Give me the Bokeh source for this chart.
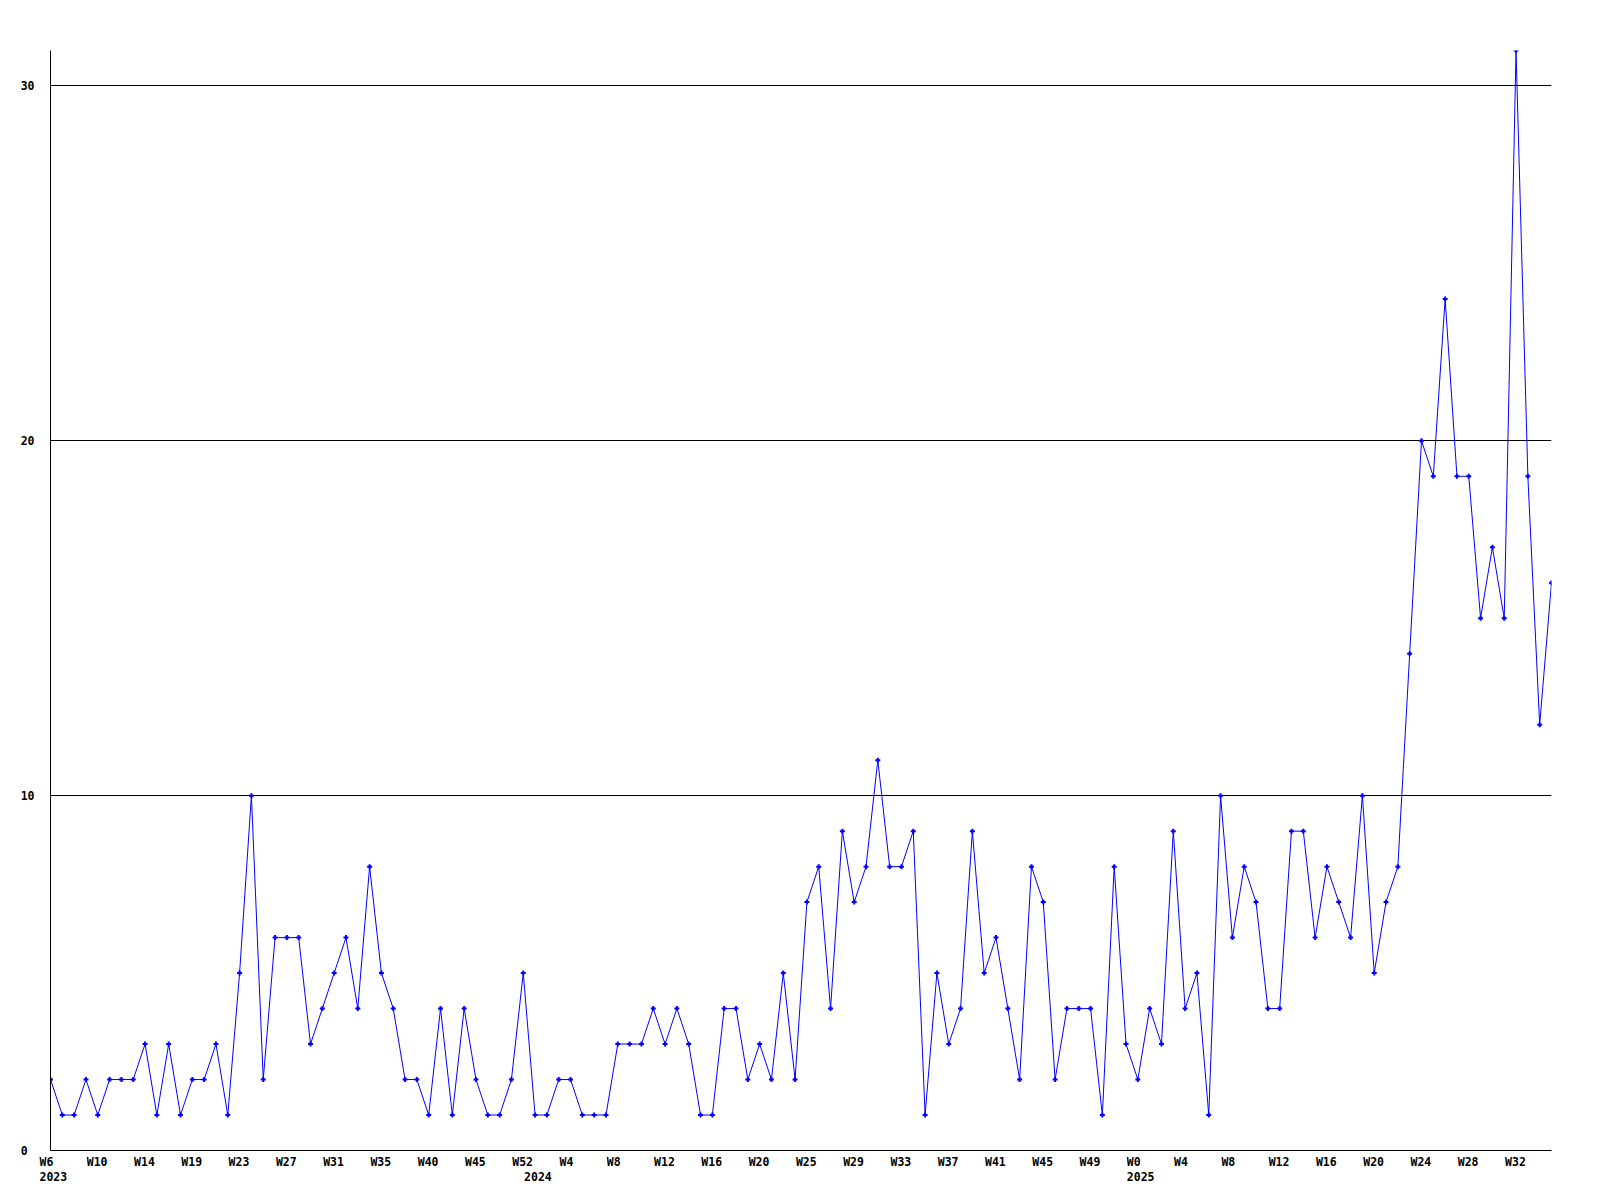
from bokeh.plotting import figure
from bokeh.models import (FixedTicker, ColumnDataSource, Range1d, LinearAxis,
                          CustomJSTickFormatter)
from bokeh.embed import file_html
from bokeh.resources import INLINE
import math

# weekly counts, W6 2023 .. W33 2025 (index based)
counts = [2, 1, 1, 2, 1, 2, 2, 2, 3, 1,
          3, 1, 2, 2, 3, 1, 5, 10, 2, 6,
          6, 6, 3, 4, 5, 6, 4, 8, 5, 4,
          2, 2, 1, 4, 1, 4, 2, 1, 1, 2,
          5, 1, 1, 2, 2, 1, 1, 1, 3, 3,
          3, 4, 3, 4, 3, 1, 1, 4, 4, 2,
          3, 2, 5, 2, 7, 8, 4, 9, 7, 8,
          11, 8, 8, 9, 1, 5, 3, 4, 9, 5,
          6, 4, 2, 8, 7, 2, 4, 4, 4, 1,
          8, 3, 2, 4, 3, 9, 4, 5, 1, 10,
          6, 8, 7, 4, 4, 9, 9, 6, 8, 7,
          6, 10, 5, 7, 8, 14, 20, 19, 24, 19,
          19, 15, 17, 15, 31, 19, 12, 16]

week_tick_labels = ["W6", "W10", "W14", "W19", "W23", "W27", "W31", "W35",
                    "W40", "W45", "W52", "W4", "W8", "W12", "W16", "W20",
                    "W25", "W29", "W33", "W37", "W41", "W45", "W49", "W0",
                    "W4", "W8", "W12", "W16", "W20", "W24", "W28", "W32"]
week_tick_step = 4
year_labels = ["2023", "2024", "2025"]
year_label_index = [0, 41, 92]
y_ticks = [0, 10, 20, 30]
y_max = 31

FONT = "DejaVu Sans Mono"
FSIZE_PX = 11.5
FSIZE = f"{FSIZE_PX}px"
CHAR_W = 0.602 * FSIZE_PX      # monospace advance
LEFT_SHIFT = 11                # labels start this many px left of their tick
NBSP = "\u00a0"

W_FRAME = 1501
n = len(counts)
px_per_unit = W_FRAME / (n - 1)

xs = list(range(n))
src = ColumnDataSource(dict(x=xs, y=counts))

p = figure(width=1592, height=1192, output_backend="svg", toolbar_location=None,
           x_range=Range1d(0, n - 1), y_range=Range1d(0, y_max),
           min_border_left=50, min_border_right=41, min_border_top=50,
           min_border_bottom=42)
p.outline_line_color = None
p.background_fill_color = "white"
p.border_fill_color = "white"
p.xgrid.visible = False


def style_axis(ax, standoff):
    ax.major_tick_line_color = None
    ax.minor_tick_line_color = None
    ax.major_tick_out = 0
    ax.major_tick_in = 0
    ax.minor_tick_out = 0
    ax.minor_tick_in = 0
    ax.major_label_standoff = standoff
    ax.major_label_text_font = FONT
    ax.major_label_text_font_style = "bold"
    ax.major_label_text_font_size = FSIZE
    ax.major_label_text_color = "black"
    ax.axis_line_color = "black"
    ax.axis_line_width = 1


def left_aligned(indices, labels):
    """Centre positions (data units) of left-aligned labels; labels that would
    be centred left of the range get trailing no-break spaces."""
    pos, txt = [], []
    for i, t in zip(indices, labels):
        k = 0
        while i + (-LEFT_SHIFT + (len(t) + k) * CHAR_W / 2) / px_per_unit < 0:
            k += 1
        pos.append(i + (-LEFT_SHIFT + (len(t) + k) * CHAR_W / 2) / px_per_unit)
        txt.append(t + NBSP * k)
    return pos, txt


fmt_code = """
const i = idx.indexOf(Math.round(tick));
return i < 0 ? "" : lbl[i];
"""

# week labels
wk_idx = [i * week_tick_step for i in range(len(week_tick_labels))]
wk_pos, wk_txt = left_aligned(wk_idx, week_tick_labels)
xa = p.xaxis[0]
style_axis(xa, 4)
xa.ticker = FixedTicker(ticks=wk_pos)
xa.formatter = CustomJSTickFormatter(args=dict(idx=wk_idx, lbl=wk_txt), code=fmt_code)

# year labels on a second axis below
yr_pos, yr_txt = left_aligned(year_label_index, year_labels)
ya2 = LinearAxis()
style_axis(ya2, 0)
ya2.axis_line_color = None
ya2.ticker = FixedTicker(ticks=yr_pos)
ya2.formatter = CustomJSTickFormatter(args=dict(idx=year_label_index, lbl=yr_txt),
                                      code=fmt_code)
p.add_layout(ya2, "below")

# y axis: labels start at a common left edge
yax = p.yaxis[0]
style_axis(yax, 16)
yax.ticker = FixedTicker(ticks=y_ticks)
y_txt = [str(v) for v in y_ticks]
y_width = max(len(t) for t in y_txt)
yax.formatter = CustomJSTickFormatter(
    args=dict(vals=y_ticks, txt=[t + NBSP * (y_width - len(t)) for t in y_txt]),
    code="const i = vals.indexOf(Math.round(tick)); return i < 0 ? '' : txt[i];")

p.ygrid.ticker = FixedTicker(ticks=[t for t in y_ticks if t > 0])
p.ygrid.grid_line_color = "black"
p.ygrid.grid_line_alpha = 1.0
p.ygrid.grid_line_width = 1

p.line("x", "y", source=src, line_color="#0000ff", line_width=1)
p.scatter("x", "y", source=src, marker="cross", size=5, line_width=2,
          line_color="#0000ff")

open("out.html", "w").write(file_html(p, INLINE))
